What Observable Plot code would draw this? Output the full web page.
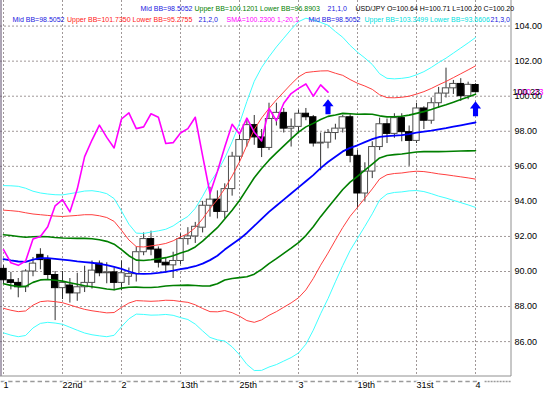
<!DOCTYPE html>
<html><head><meta charset="utf-8">
<script src="https://cdn.jsdelivr.net/npm/d3@7"></script>
<script src="https://cdn.jsdelivr.net/npm/@observablehq/plot@0.6"></script>
<style>
body{margin:0;background:#fff;}
#chart svg{display:block;}
</style></head><body><div id="chart"></div>
<script>
// ---- data ----
const dateLabels = ["1","22nd","2","13th","25th","3","19th","31st","4"];
const dateLabelIdx = [0,8,16,24,32,40,48,56,64];
const yTicks = [86,88,90,92,94,96,98,100,102,104];

const open  = [90.15,89.5,89.35,89.1,90.0,90.95,90.65,89.8,89.05,89.2,
               88.75,89.1,89.35,90.45,89.9,89.95,89.35,89.7,89.85,91.1,
               91.85,91.25,90.5,90.35,90.6,91.85,92.0,92.5,93.75,94.1,
               93.4,94.7,96.55,97.5,98.35,97.65,97.05,98.7,99.05,98.15,
               98.25,99.0,98.8,97.3,97.35,97.9,98.15,98.8,96.6,94.45,
               95.7,97.1,98.4,97.85,98.75,97.95,97.45,99.3,98.6,99.6,
               100.15,100.45,100.7,100.0,100.64];
const high  = [90.35,89.95,89.6,90.1,90.8,91.3,90.9,90.0,90.0,89.6,
               89.9,90.3,90.6,90.6,90.5,90.2,90.6,90.2,91.4,92.2,
               92.3,91.4,90.8,91.1,92.15,92.5,92.8,94.0,94.8,94.6,
               95.0,96.8,97.8,98.7,98.9,98.1,99.6,99.6,99.3,98.7,
               99.2,99.3,98.9,97.9,98.1,98.4,98.9,98.95,96.9,96.2,
               97.4,98.75,98.7,99.0,99.0,98.3,99.6,99.4,99.9,100.5,
               101.6,100.9,101.0,100.8,100.71];
const low   = [89.3,88.95,88.5,88.8,89.7,90.1,89.5,87.2,88.4,88.2,
               88.3,88.8,89.0,89.7,89.3,88.9,88.9,89.2,89.4,90.9,
               90.9,90.2,89.9,89.6,90.4,91.5,91.6,92.2,93.1,93.0,
               93.0,94.3,96.2,97.1,97.2,96.5,96.9,98.3,97.9,97.1,
               97.9,98.6,97.1,95.75,97.0,97.5,97.9,96.2,93.6,94.0,
               95.3,96.9,97.3,97.6,97.4,96.0,97.3,98.1,98.4,99.3,
               99.9,100.1,99.7,99.8,100.2];
const close = [89.5,89.35,89.1,90.0,90.45,90.65,89.8,89.05,89.35,88.75,
               89.1,89.35,90.05,89.9,89.95,89.35,89.9,89.85,91.1,91.85,
               91.25,90.5,90.35,90.6,91.85,92.0,92.55,93.75,94.1,93.4,
               94.7,96.55,97.5,98.35,97.65,97.05,98.7,99.05,98.15,98.25,
               99.0,98.8,97.3,97.35,97.9,98.15,98.8,96.6,94.45,95.7,
               97.1,98.4,97.85,98.75,97.95,97.45,99.3,98.6,99.6,100.15,
               100.45,100.7,100.0,100.65,100.23];

const bbMid = [90.7,90.63,90.57,90.55,90.68,90.76,90.76,90.72,90.68,90.63,
               90.58,90.54,90.5,90.44,90.36,90.26,90.15,90.0,89.88,89.86,
               89.88,89.92,89.98,90.05,90.13,90.2,90.3,90.45,90.65,90.9,
               91.25,91.55,91.85,92.2,92.6,93.0,93.4,93.75,94.1,94.45,
               94.8,95.15,95.5,95.9,96.25,96.55,96.85,97.05,97.2,97.38,
               97.55,97.68,97.72,97.75,97.78,97.84,97.92,97.98,98.04,98.11,
               98.18,98.26,98.34,98.42,98.5];
const bbSd  = [1.4,1.42,1.43,1.4,1.3,1.24,1.22,1.22,1.23,1.27,
               1.31,1.35,1.37,1.37,1.36,1.3,1.1,0.9,0.77,0.77,
               0.79,0.8,0.81,0.85,0.92,0.98,1.1,1.28,1.47,1.6,
               1.74,1.95,2.2,2.5,2.75,2.88,2.95,3.02,3.07,3.12,
               3.15,3.1,2.95,2.77,2.6,2.38,2.17,1.95,1.77,1.6,
               1.42,1.2,1.1,1.08,1.08,1.08,1.1,1.14,1.2,1.27,
               1.33,1.4,1.47,1.54,1.615];
const bbDevs = [3, 2, 1];
const smaShift = 20;          // SMA(1) shifted -20
const signalIdx = [44, 64];
const signalPrice = [99.4, 99.28];
const lastPrice = 100.23;

const legendTop = [
  ["Mid BB=98.5052", "#2020e0"],
  ["Upper BB=100.1201 Lower BB=96.8903", "#008000"],
  ["21,1,0", "#2020e0"],
  ["USD/JPY O=100.64 H=100.71 L=100.20 C=100.20", "#000000"]
];
const legendBottom = [
  ["Mid BB=98.5052", "#2020e0"],
  ["Upper BB=101.7350 Lower BB=95.2755", "#ff2020"],
  ["21,2,0", "#2020e0"],
  ["SMA=100.2300", "#ff00ff"],
  ["1,-20,1", "#ff00ff"],
  ["Mid BB=98.5052", "#2020e0"],
  ["Upper BB=103.3499 Lower BB=93.6606", "#00e0e0"],
  ["21,3,0", "#2020e0"]
];

// ---- layout / style ----
const legendTopX = [140, 194, 327, 355];
const legendTopW = [51, 123, 21, 179];
const legendBottomX = [12, 66.5, 198, 226, 276.5, 308, 364, 490];
const legendBottomW = [53, 120, 21, 45, 24, 52, 119, 19];
const bandColors = {3: "#40ffff", 2: "#ff4040", 1: "#007f00"};
const bandWidths = {3: 1, 2: 1, 1: 1.6};
const gridStyle = {stroke: "#a09898", strokeDasharray: "2,2", strokeWidth: 1};

const candles = open.map((o, i) => ({i, o, h: high[i], l: low[i], c: close[i]}));
const bandRows = bbMid.map((m, i) => ({i, m, s: bbSd[i]}));
const smaRows = d3.range(close.length - smaShift).map(i => ({i, v: close[i + smaShift]}));
const signals = signalIdx.map((i, k) => ({i, v: signalPrice[k]}));

const upArrow = {
  draw(context, size) {
    const s = Math.sqrt(size / Math.PI);
    context.moveTo(0, -s);
    context.lineTo(0.74 * s, -0.05 * s);
    context.lineTo(0.34 * s, -0.05 * s);
    context.lineTo(0.34 * s, s);
    context.lineTo(-0.34 * s, s);
    context.lineTo(-0.34 * s, -0.05 * s);
    context.lineTo(-0.74 * s, -0.05 * s);
    context.closePath();
  }
};

const xDomain = [-0.407, 68.88];
const yDomain = [84.01, 105.46];

const bandMarks = [];
for (const k of bbDevs) {
  for (const sign of [1, -1]) {
    bandMarks.push(Plot.line(bandRows, {
      x: "i", y: d => d.m + sign * k * d.s,
      stroke: bandColors[k], strokeWidth: bandWidths[k], curve: "linear"
    }));
  }
}

const legendMarks = [
  ...legendTop.map(([t, c], k) => Plot.text([t], {
    frameAnchor: "top-left", dx: legendTopX[k], dy: 6, textAnchor: "start",
    fill: c, fontSize: 7, text: d => d, ariaLabel: `lgt-${k}`
  })),
  ...legendBottom.map(([t, c], k) => Plot.text([t], {
    frameAnchor: "top-left", dx: legendBottomX[k], dy: 16.7, textAnchor: "start",
    fill: c, fontSize: 7, text: d => d, ariaLabel: `lgb-${k}`
  }))
];

const chart = Plot.plot({
  width: 546,
  height: 395,
  marginTop: 0,
  marginBottom: 19,
  marginLeft: 0,
  marginRight: 35,
  style: {fontFamily: "'Liberation Sans', Arial, sans-serif", background: "#fff", overflow: "visible"},
  x: {domain: xDomain, axis: null},
  y: {domain: yDomain, axis: null},
  color: {type: "identity"},
  marks: [
    // grid
    Plot.ruleY(yTicks, {y: d => d, ...gridStyle}),
    Plot.ruleX(dateLabelIdx, {x: d => d, ...gridStyle}),
    // frame
    Plot.ruleX([xDomain[0]], {x: d => d, stroke: "#5a4a6a", dx: 0.5}),
    Plot.ruleX([xDomain[1]], {x: d => d, stroke: "#909090", dx: -0.5}),
    Plot.ruleY([yDomain[0]], {y: d => d, stroke: "#909090", dy: -0.5}),
    // per-candle dashes under the axis
    Plot.ruleY([yDomain[0]], {y: d => d, x1: xDomain[0] + 0.1, x2: 64.5, dy: 5,
      stroke: "#9a9a9a", strokeWidth: 1.6, strokeDasharray: "4.4,2.975"}),
    Plot.ruleY([yDomain[0]], {y: d => d, x1: 65.3, x2: xDomain[1], dy: 5,
      stroke: "#9a9a9a", strokeWidth: 1.6, strokeDasharray: "2,1"}),
    // candles
    Plot.ruleX(candles, {x: "i", y1: "l", y2: "h", stroke: "#303030", strokeWidth: 1}),
    Plot.rect(candles, {
      x1: d => d.i - 0.43, x2: d => d.i + 0.43, y1: "o", y2: "c",
      fill: d => d.c >= d.o ? "#ffffff" : "#000000",
      stroke: d => d.c >= d.o ? "#505050" : "#000000", strokeWidth: 1
    }),
    // bollinger bands
    ...bandMarks,
    Plot.line(bandRows, {x: "i", y: "m", stroke: "#0000ff", strokeWidth: 1.8}),
    // shifted SMA
    Plot.line(smaRows, {x: "i", y: "v", stroke: "#ff00ff", strokeWidth: 1.6}),
    // signal arrows
    Plot.dot(signals, {x: "i", y: "v", symbol: upArrow, r: 7.5, fill: "#0000ff", stroke: null}),
    // y labels
    Plot.text(yTicks, {y: d => d, frameAnchor: "right", textAnchor: "start", dx: 3,
      text: d => d.toFixed(2), fontSize: 9, fill: "#000"}),
    // x labels
    Plot.text(dateLabelIdx, {x: d => d, frameAnchor: "bottom", textAnchor: "start", dy: 11,
      text: (d, k) => dateLabels[k], fontSize: 9, fill: "#000", stroke: "#fff", strokeWidth: 3, paintOrder: "stroke"}),
    // last price labels
    Plot.text([lastPrice], {y: d => d, frameAnchor: "right", textAnchor: "start", dx: 4.6,
      text: d => d.toFixed(2), fontSize: 9, fill: "#ff00ff"}),
    Plot.text([lastPrice], {y: d => d, frameAnchor: "right", textAnchor: "start", dx: 1,
      text: d => d.toFixed(2), fontSize: 9, fill: "#000", ariaLabel: "last-price"}),
    ...legendMarks
  ]
});

document.getElementById("chart").append(chart);

// fit legend texts to the widths they take in the reference
legendTopW.forEach((w, k) => {
  const t = chart.querySelector(`g[aria-label="lgt-${k}"] text`);
  if (t) { t.setAttribute("textLength", w); t.setAttribute("lengthAdjust", "spacingAndGlyphs"); }
});
legendBottomW.forEach((w, k) => {
  const t = chart.querySelector(`g[aria-label="lgb-${k}"] text`);
  if (t) { t.setAttribute("textLength", w); t.setAttribute("lengthAdjust", "spacingAndGlyphs"); }
});

// grey price box behind the last-price label
const lp = chart.querySelector('g[aria-label="last-price"]');
if (lp) {
  const t = lp.querySelector("text");
  const b = t.getBBox();
  const ns = "http://www.w3.org/2000/svg";
  const r = document.createElementNS(ns, "rect");
  const tr = t.getAttribute("transform");
  r.setAttribute("x", b.x - 0.5);
  r.setAttribute("y", b.y + 1);
  r.setAttribute("width", b.width + 1);
  r.setAttribute("height", b.height - 2);
  r.setAttribute("fill", "#c8c8c8");
  if (tr) r.setAttribute("transform", tr);
  lp.insertBefore(r, t);
}
</script>
</body></html>
